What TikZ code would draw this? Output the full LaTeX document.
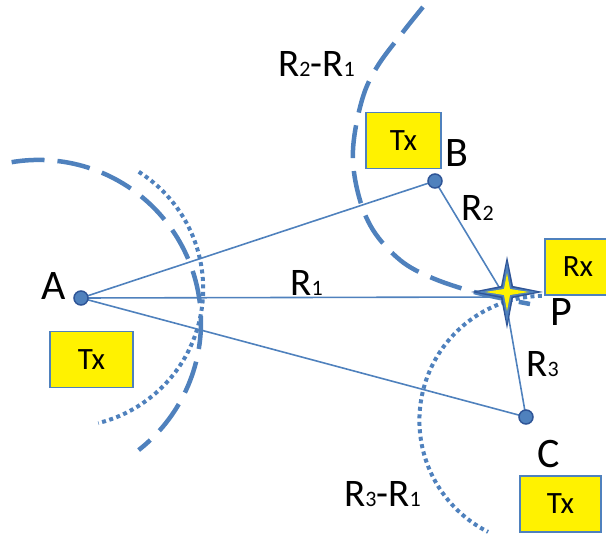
\documentclass[tikz,border=0pt]{standalone}
\usepackage{fontspec}
\setmainfont{Carlito}
\definecolor{ob}{HTML}{4F81BD}
\definecolor{obd}{HTML}{2F5597}
\newcommand\subdig[1]{{\fontsize{22}{22}\selectfont #1}}
\begin{document}
\begin{tikzpicture}[x=1pt,y=-1pt,
  conn/.style={draw=ob, line width=1.6pt},
  dasharc/.style={draw=ob, line width=4.5pt, dash pattern=on 33pt off 13pt},
  dotarc/.style={draw=ob, line width=4pt, dash pattern=on 4pt off 3.5pt},
  dotnode/.style={circle, fill=ob, draw=obd, line width=1.5pt, minimum size=14pt, inner sep=0pt},
  txbox/.style={draw=ob, fill=yellow, line width=1.5pt, inner sep=0pt, minimum height=56pt, font=\fontsize{31}{31}\selectfont},
  lbl/.style={inner sep=0pt, anchor=base, font=\fontsize{39}{39}\selectfont},
  ptl/.style={inner sep=0pt, anchor=base, font=\fontsize{42}{42}\selectfont}]
\useasboundingbox (0,0) rectangle (606,534);
% points
\coordinate (A) at (81,298);
\coordinate (B) at (435,181);
\coordinate (C) at (526,417);
\coordinate (P) at (505,297);
\coordinate (S) at (507,292);
% arcs
\draw[dasharc] plot[domain=99.6:-52, samples=90] ({38.7+162.3*cos(\x)}, {322.2-162.3*sin(\x)});
\draw[dotarc] plot[domain=57.7:-76, samples=90] ({64.8+138.4*cos(\x)}, {288.8-138.4*sin(\x)});
\draw[dotarc] plot[domain=91:243.3, samples=90] ({544.1+124.7*cos(\x)}, {420.5-124.7*sin(\x)});
\draw[dasharc] plot[smooth, tension=0.6] coordinates {(423,7) (403,32) (377,67) (362,100) (353,150) (358,193) (373,230) (400,260) (430,277) (467,290) (500,298) (530,304)};
% connectors
\draw[conn] (A) -- (B);
\draw[conn] (A) -- (P);
\draw[conn] (A) -- (C);
\draw[conn] (B) -- (P);
\draw[conn] (C) -- (P);
% dots
\node[dotnode] (dA) at (A) {};
\node[dotnode] (dB) at (B) {};
\node[dotnode] (dC) at (C) {};
% star
\fill[obd, shift={(S)}] (0,-36) -- (6,-6) -- (36,0) -- (6,6) -- (0,37) -- (-6,6) -- (-36,0) -- (-6,-6) -- cycle;
\fill[ob, shift={(S)}] (0,-30) -- (4.5,-4.5) -- (30,0) -- (4.5,4.5) -- (0,31) -- (-4.5,4.5) -- (-30,0) -- (-4.5,-4.5) -- cycle;
\fill[yellow, shift={(S)}] (0,-19) -- (3,-3) -- (22,0) -- (3,3) -- (0,19) -- (-3,3) -- (-22,0) -- (-3,-3) -- cycle;
% boxes
\node[txbox, minimum width=75pt] (txB) at (403.5,140.5) {Tx};
\node[txbox, minimum width=83pt] (txA) at (91.5,359.5) {Tx};
\node[txbox, minimum width=81pt] (txC) at (560.5,504) {Tx};
\node[txbox, minimum width=66pt] (rx) at (578,267) {Rx};
% labels
\node[ptl] (lA) at (54,300) {A};
\node[ptl] (lB) at (457,167) {B};
\node[ptl] (lC) at (548.5,468) {C};
\node[ptl] (lP) at (561,326) {P};
\node[lbl] (l1) at (306.5,296) {R\subdig{1}};
\node[lbl] (l2) at (477.5,221) {R\subdig{2}};
\node[lbl] (l3) at (542.5,377) {R\subdig{3}};
\node[lbl] (l21) at (316.5,77) {R\subdig{2}-R\subdig{1}};
\node[lbl] (l31) at (382.5,507) {R\subdig{3}-R\subdig{1}};
\end{tikzpicture}
\end{document}
